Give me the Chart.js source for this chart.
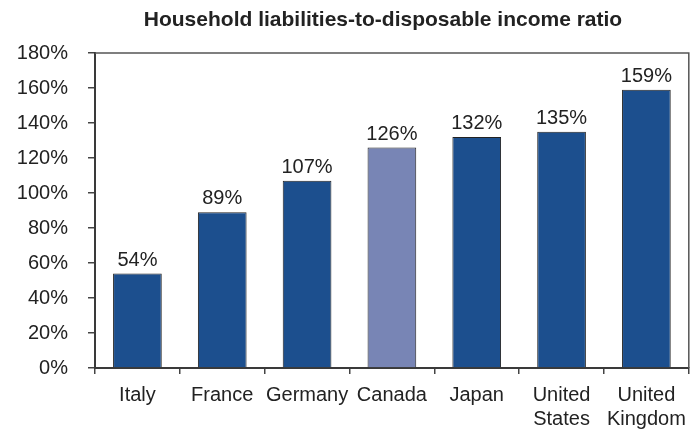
<!DOCTYPE html>
<html>
<head>
<meta charset="utf-8">
<script src="https://cdn.jsdelivr.net/npm/chart.js@4"></script>
<style>
  html, body { margin: 0; padding: 0; background: #fff; }
  #wrap { width: 695px; height: 431px; }
</style>
</head>
<body>
<div id="wrap"><canvas id="ratioChart" width="695" height="431"></canvas></div>
<script>
const countries = ['Italy', 'France', 'Germany', 'Canada', 'Japan', ['United', 'States'], ['United', 'Kingdom']];
const ratios = [54, 89, 107, 126, 132, 135, 159];
const barColors = ['#1c4f8e', '#1c4f8e', '#1c4f8e', '#7885b5', '#1c4f8e', '#1c4f8e', '#1c4f8e'];
const chartTitle = 'Household liabilities-to-disposable income ratio';

const FONT = '"Liberation Sans", Arial, sans-serif';

// value labels above each bar
const valueLabels = {
  id: 'valueLabels',
  afterDatasetsDraw(chart) {
    const ctx = chart.ctx;
    const meta = chart.getDatasetMeta(0);
    ctx.save();
    ctx.font = '20px ' + FONT;
    ctx.fillStyle = '#222';
    ctx.textAlign = 'center';
    ctx.textBaseline = 'alphabetic';
    meta.data.forEach((bar, i) => {
      ctx.fillText(ratios[i] + '%', bar.x, bar.y - 8);
    });
    ctx.restore();
  }
};

// frame around the plot area (top and right sides) plus the heading
const plotFrame = {
  id: 'plotFrame',
  afterDraw(chart) {
    const { ctx, chartArea: a } = chart;
    ctx.save();
    ctx.strokeStyle = '#555';
    ctx.lineWidth = 1.5;
    ctx.beginPath();
    ctx.moveTo(a.left, a.top);
    ctx.lineTo(a.right, a.top);
    ctx.lineTo(a.right, a.bottom);
    ctx.stroke();

    ctx.font = 'bold 21px ' + FONT;
    ctx.fillStyle = '#222';
    ctx.textAlign = 'center';
    ctx.textBaseline = 'alphabetic';
    ctx.fillText(chartTitle, 383, 26);
    ctx.restore();
  }
};

new Chart(document.getElementById('ratioChart'), {
  type: 'bar',
  data: {
    labels: countries,
    datasets: [{
      data: ratios,
      backgroundColor: barColors,
      borderColor: '#222',
      borderWidth: 1,
      barPercentage: 0.574,
      categoryPercentage: 1
    }]
  },
  options: {
    responsive: false,
    animation: false,
    layout: { padding: { left: 0, right: 2, top: 53, bottom: 0 } },
    plugins: {
      legend: { display: false },
      tooltip: { enabled: false },
      title: { display: false }
    },
    scales: {
      x: {
        grid: { display: true, drawOnChartArea: false, drawTicks: true, tickLength: 6, color: '#444', lineWidth: 1.5 },
        border: { color: '#3a3a3a', width: 2 },
        ticks: { color: '#222', font: { family: FONT, size: 20, lineHeight: 1.2 }, padding: 9, maxRotation: 0, autoSkip: false },
        afterFit(scale) { scale.height = 63; }
      },
      y: {
        min: 0,
        max: 180,
        grid: { display: true, drawOnChartArea: false, drawTicks: true, tickLength: 7, color: '#444', lineWidth: 1.5 },
        border: { color: '#3a3a3a', width: 2 },
        ticks: {
          stepSize: 20,
          color: '#222',
          font: { family: FONT, size: 20 },
          padding: 20,
          callback: v => v + '%'
        },
        afterFit(scale) { scale.width = 95; }
      }
    }
  },
  plugins: [valueLabels, plotFrame]
});
</script>
</body>
</html>
